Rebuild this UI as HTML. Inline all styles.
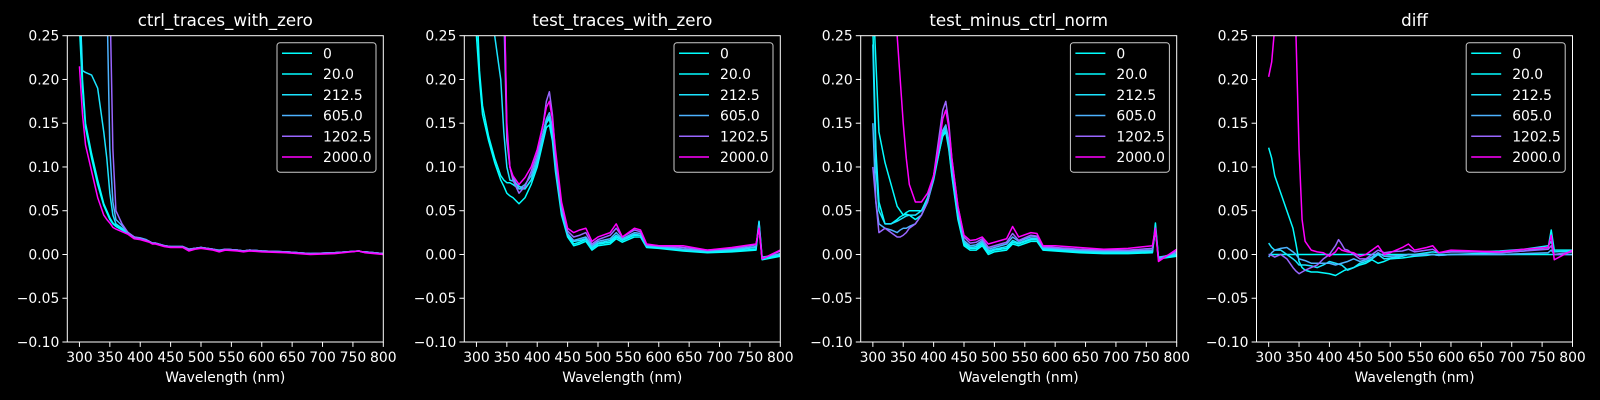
<!DOCTYPE html>
<html><head><meta charset="utf-8"><style>
html,body{margin:0;padding:0;background:#000;}
svg{display:block;font-family:"DejaVu Sans","Liberation Sans",sans-serif;}
</style></head><body>
<svg id="fig" width="1600" height="400" viewBox="0 0 1600 400" xmlns="http://www.w3.org/2000/svg">
<rect width="1600" height="400" fill="#000"/>
</svg>
<script>
const wavelengths=[300,305,310,320,330,340,345,350,355,360,370,380,390,400,410,415,420,425,430,440,450,460,470,480,490,500,520,530,540,560,570,580,600,640,680,720,760,765,770,800];
const seriesLabels=["0","20.0","212.5","605.0","1202.5","2000.0"];
const seriesColors=["#00ffff","#03fcff","#1be4ff","#4db2ff","#9966ff","#ff00ff"];
const panelTitles=["ctrl_traces_with_zero","test_traces_with_zero","test_minus_ctrl_norm","diff"];
const yTicks=[0.25,0.20,0.15,0.10,0.05,0.00,-0.05,-0.10];
const yTickLabels=["0.25","0.20","0.15","0.10","0.05","0.00","\u22120.05","\u22120.10"];
const xTicks=[300,350,400,450,500,550,600,650,700,750,800];

const ctrl0=[0.26,0.19,0.145,0.11,0.08,0.056,0.048,0.04,0.035,0.032,0.028,0.024,0.019,0.018,0.016,0.015,0.013,0.013,0.012,0.010,0.009,0.009,0.009,0.005,0.007,0.008,0.006,0.004,0.006,0.005,0.004,0.005,0.004,0.003,0.001,0.002,0.004,0.003,0.003,0.001];
const ctrl20=[0.3,0.2,0.15,0.115,0.085,0.058,0.05,0.042,0.036,0.033,0.029,0.025,0.020,0.018,0.016,0.015,0.013,0.013,0.012,0.010,0.009,0.009,0.009,0.006,0.007,0.008,0.006,0.004,0.006,0.005,0.004,0.005,0.004,0.003,0.001,0.002,0.004,0.003,0.003,0.001];
const ctrl212=[0.3,0.21,0.208,0.205,0.19,0.14,0.11,0.07,0.045,0.035,0.03,0.025,0.020,0.018,0.016,0.015,0.013,0.013,0.012,0.010,0.009,0.009,0.009,0.006,0.007,0.008,0.006,0.004,0.006,0.005,0.004,0.005,0.004,0.003,0.001,0.002,0.004,0.003,0.003,0.001];
const ctrl605=[0.5,0.5,0.5,0.5,0.5,0.5,0.3,0.12,0.06,0.04,0.033,0.025,0.020,0.019,0.017,0.015,0.013,0.013,0.012,0.010,0.009,0.009,0.009,0.006,0.007,0.008,0.006,0.005,0.006,0.005,0.004,0.005,0.004,0.003,0.001,0.002,0.004,0.003,0.003,0.001];
const ctrl1202=[0.5,0.5,0.5,0.5,0.5,0.5,0.5,0.3,0.12,0.05,0.035,0.025,0.020,0.018,0.016,0.015,0.013,0.013,0.012,0.010,0.009,0.009,0.009,0.006,0.007,0.008,0.006,0.004,0.006,0.005,0.004,0.005,0.004,0.003,0.001,0.002,0.004,0.003,0.003,0.001];
const ctrl2000=[0.215,0.16,0.125,0.095,0.065,0.045,0.04,0.036,0.031,0.029,0.026,0.023,0.018,0.017,0.015,0.014,0.012,0.012,0.011,0.009,0.008,0.008,0.008,0.004,0.006,0.007,0.005,0.003,0.005,0.004,0.003,0.004,0.003,0.002,0.000,0.001,0.004,0.003,0.002,0.000];

const test0=[0.25,0.2,0.16,0.13,0.105,0.085,0.078,0.07,0.067,0.065,0.058,0.065,0.08,0.1,0.13,0.145,0.148,0.13,0.095,0.045,0.02,0.01,0.012,0.015,0.005,0.01,0.012,0.018,0.014,0.02,0.02,0.008,0.007,0.004,0.002,0.003,0.005,0.035,-0.006,-0.002];
const test20=[0.3,0.21,0.17,0.135,0.11,0.09,0.085,0.082,0.082,0.08,0.075,0.075,0.085,0.105,0.135,0.15,0.155,0.135,0.1,0.05,0.022,0.012,0.014,0.017,0.007,0.012,0.014,0.02,0.016,0.022,0.022,0.009,0.008,0.005,0.003,0.004,0.006,0.037,-0.004,-0.001];
const test212=[0.5,0.5,0.5,0.5,0.25,0.2,0.14,0.1,0.085,0.084,0.078,0.075,0.085,0.105,0.135,0.152,0.158,0.14,0.1,0.05,0.023,0.015,0.016,0.018,0.008,0.013,0.016,0.022,0.017,0.023,0.022,0.01,0.009,0.006,0.004,0.005,0.008,0.038,-0.003,0.0];
const test605=[0.5,0.5,0.5,0.5,0.5,0.5,0.28,0.13,0.1,0.088,0.075,0.08,0.09,0.11,0.14,0.155,0.162,0.145,0.105,0.052,0.024,0.016,0.018,0.02,0.01,0.015,0.018,0.025,0.018,0.025,0.024,0.01,0.009,0.006,0.004,0.006,0.009,0.033,-0.004,0.001];
const test1202=[0.5,0.5,0.5,0.5,0.5,0.5,0.32,0.14,0.1,0.085,0.07,0.078,0.095,0.115,0.15,0.175,0.186,0.16,0.115,0.057,0.027,0.02,0.022,0.025,0.012,0.017,0.022,0.03,0.02,0.028,0.026,0.011,0.01,0.008,0.005,0.007,0.011,0.03,-0.005,0.004];
const test2000=[0.5,0.5,0.5,0.5,0.5,0.5,0.32,0.15,0.1,0.09,0.08,0.088,0.1,0.12,0.15,0.168,0.175,0.155,0.12,0.06,0.03,0.025,0.028,0.03,0.015,0.02,0.025,0.035,0.02,0.03,0.028,0.012,0.01,0.01,0.005,0.008,0.012,0.03,-0.005,0.005];

const norm0=[0.26,0.12,0.06,0.035,0.035,0.04,0.043,0.045,0.046,0.045,0.04,0.045,0.06,0.085,0.12,0.135,0.14,0.12,0.09,0.04,0.01,0.005,0.005,0.01,0.0,0.003,0.005,0.012,0.01,0.015,0.015,0.005,0.004,0.002,0.001,0.001,0.002,0.03,-0.005,-0.002];
const norm20=[0.3,0.22,0.14,0.105,0.08,0.055,0.05,0.045,0.048,0.05,0.05,0.05,0.062,0.088,0.12,0.137,0.142,0.122,0.092,0.042,0.012,0.007,0.007,0.012,0.002,0.005,0.007,0.014,0.012,0.017,0.017,0.006,0.005,0.003,0.002,0.002,0.003,0.036,-0.004,-0.001];
const norm212=[0.24,0.1,0.05,0.035,0.035,0.038,0.04,0.042,0.044,0.045,0.045,0.05,0.065,0.09,0.125,0.14,0.145,0.125,0.095,0.045,0.014,0.008,0.009,0.014,0.004,0.006,0.009,0.016,0.013,0.018,0.018,0.007,0.006,0.004,0.003,0.003,0.004,0.032,-0.003,0.0];
const norm605=[0.15,0.06,0.035,0.03,0.028,0.025,0.028,0.03,0.03,0.032,0.035,0.045,0.06,0.088,0.125,0.142,0.148,0.13,0.1,0.05,0.016,0.01,0.011,0.016,0.006,0.008,0.012,0.02,0.015,0.02,0.02,0.008,0.007,0.005,0.004,0.004,0.005,0.028,-0.004,0.002];
const norm1202=[0.1,0.06,0.025,0.03,0.025,0.02,0.02,0.022,0.025,0.03,0.035,0.045,0.06,0.09,0.14,0.165,0.175,0.15,0.11,0.055,0.02,0.013,0.014,0.018,0.008,0.01,0.014,0.024,0.016,0.022,0.021,0.009,0.008,0.006,0.005,0.005,0.007,0.028,-0.006,0.004];
const norm2000=[0.5,0.5,0.5,0.5,0.5,0.25,0.2,0.15,0.11,0.08,0.06,0.06,0.07,0.09,0.13,0.155,0.165,0.145,0.11,0.055,0.022,0.016,0.017,0.02,0.012,0.014,0.018,0.032,0.02,0.025,0.024,0.01,0.01,0.008,0.006,0.007,0.01,0.03,-0.008,0.006];

const diff0=[0,0,0,0,0,0,0,0,0,0,0,0,0,0,0,0,0,0,0,0,0,0,0,0,0,0,0,0,0,0,0,0,0,0,0,0,0,0,0,0];
const diff20=[0.122,0.11,0.09,0.07,0.05,0.03,0.012,-0.008,-0.015,-0.018,-0.02,-0.02,-0.021,-0.022,-0.024,-0.022,-0.02,-0.018,-0.017,-0.015,-0.012,-0.01,-0.006,-0.01,-0.008,-0.005,-0.004,-0.003,-0.002,-0.001,0.0,-0.001,0.0,0.001,0.002,0.004,0.008,0.028,0.005,0.005];
const diff212=[0.013,0.008,0.005,0.005,0.0,-0.005,-0.008,-0.012,-0.012,-0.012,-0.013,-0.015,-0.012,-0.008,-0.01,-0.011,-0.012,-0.015,-0.018,-0.015,-0.01,-0.008,-0.005,0.0,-0.005,-0.004,-0.002,0.0,0.0,0.002,0.003,0.002,0.003,0.003,0.004,0.006,0.01,0.015,0.003,0.004];
const diff605=[-0.003,0.002,0.005,0.007,0.008,0.003,0.0,-0.005,-0.006,-0.007,-0.01,-0.01,-0.01,-0.01,-0.012,-0.011,-0.01,-0.009,-0.008,-0.005,-0.008,-0.006,-0.003,0.002,-0.002,-0.002,-0.001,0.0,-0.001,0.0,0.0,-0.001,0.0,0.0,0.0,0.001,0.002,0.005,0.0,0.0];
const diff1202=[0.0,-0.001,-0.003,0.0,-0.005,-0.015,-0.019,-0.022,-0.02,-0.018,-0.015,-0.012,-0.005,0.0,0.01,0.017,0.012,0.006,0.005,0.0,-0.005,-0.005,0.0,0.005,0.002,0.003,0.004,0.006,0.003,0.005,0.006,0.002,0.003,0.003,0.002,0.004,0.006,0.01,0.0,0.003];
const diff2000=[0.203,0.22,0.26,0.5,0.5,0.5,0.25,0.12,0.04,0.015,0.005,0.003,0.002,-0.002,0.003,0.008,0.005,0.004,0.003,0.002,-0.002,0.0,0.005,0.01,0.0,0.002,0.008,0.012,0.005,0.008,0.01,0.002,0.005,0.004,0.003,0.006,0.008,0.022,-0.006,0.005];

const panelSeries=[
 [ctrl0,ctrl20,ctrl212,ctrl605,ctrl1202,ctrl2000],
 [test0,test20,test212,test605,test1202,test2000],
 [norm0,norm20,norm212,norm605,norm1202,norm2000],
 [diff0,diff20,diff212,diff605,diff1202,diff2000]
];

const NS="http://www.w3.org/2000/svg";
const svg=document.getElementById('fig');
const panelLefts=[67.3,464.3,860.7,1256.5];
const PW=316, TOP=35.7, BOT=342;
const XMIN=280, XMAX=800, YMIN=-0.10, YMAX=0.25;
const FS=13.9;
function mk(tag,attrs,parent){const e=document.createElementNS(NS,tag);for(const k in attrs)e.setAttribute(k,attrs[k]);(parent||svg).appendChild(e);return e;}
function txt(s,attrs,parent){const e=mk('text',attrs,parent);e.textContent=s;return e;}

panelTitles.forEach((title,p)=>{
  const L=panelLefts[p], R=L+PW;
  const xs=v=>L+(v-XMIN)/(XMAX-XMIN)*PW;
  const ys=v=>BOT-(v-YMIN)/(YMAX-YMIN)*(BOT-TOP);
  const g=mk('g',{});
  
  
  const cp=mk('clipPath',{id:'clip'+p},g);
  mk('rect',{x:L,y:TOP,width:PW,height:BOT-TOP},cp);
  const lg=mk('g',{'clip-path':'url(#clip'+p+')'},g);
  panelSeries[p].forEach((vals,s)=>{
    let d='';
    vals.forEach((v,i)=>{d+=(i?'L':'M')+xs(wavelengths[i]).toFixed(2)+','+ys(v).toFixed(2);});
    const path=mk('path',{d:d,fill:'none',stroke:seriesColors[s],'stroke-width':1.5,'stroke-linejoin':'round'},lg);
    
    
  });
  const fr=mk('rect',{x:L,y:TOP,width:PW,height:BOT-TOP,fill:'none',stroke:'#fff','stroke-width':1},g);
  
  
  yTicks.forEach((t,i)=>{
    const y=ys(t);
    mk('line',{x1:L-4.9,x2:L,y1:y,y2:y,stroke:'#fff','stroke-width':1},g);
    const lab=txt(yTickLabels[i],{x:L-8,y:y+5,'text-anchor':'end',fill:'#fff','font-size':FS},g);
    
    
  });
  xTicks.forEach(t=>{
    const x=xs(t);
    mk('line',{x1:x,x2:x,y1:BOT,y2:BOT+4.9,stroke:'#fff','stroke-width':1},g);
    const lab=txt(String(t),{x:x,y:BOT+20,'text-anchor':'middle',fill:'#fff','font-size':FS},g);
    
    
  });
  const xl=txt('Wavelength (nm)',{x:L+PW/2,y:382,'text-anchor':'middle',fill:'#fff','font-size':FS},g);
  
  
  const tt=txt(title,{x:L+PW/2,y:26,'text-anchor':'middle',fill:'#fff','font-size':16.7},g);
  
  
  const bw=99, bx=R-7.3-bw, by=TOP+7;
  const leg=mk('g',{},g);
  
  
  mk('rect',{x:bx,y:by,width:bw,height:129.5,rx:3,fill:'#000','fill-opacity':0.8,stroke:'#cccccc','stroke-width':1},leg);
  seriesLabels.forEach((lab,s)=>{
    const ry=by+10.6+s*20.75;
    const ent=mk('g',{},leg);
    
    
    mk('line',{x1:bx+5,x2:bx+35,y1:ry,y2:ry,stroke:seriesColors[s],'stroke-width':1.5},ent);
    txt(lab,{x:bx+46,y:ry+5,fill:'#fff','font-size':FS},ent);
  });
});
</script>
</body></html>
